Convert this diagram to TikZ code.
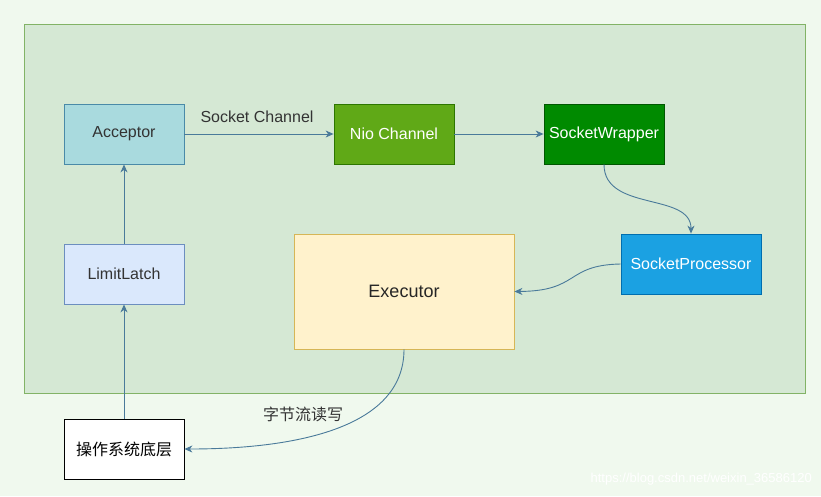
\documentclass[tikz,border=0pt]{standalone}
\usepackage{fontspec}
\setmainfont{Liberation Sans}
\newfontfamily\cjk{Noto Sans CJK SC}
\usetikzlibrary{arrows.meta}
\definecolor{bg}{HTML}{F0F9EE}
\definecolor{contfill}{HTML}{D5E8D4}
\definecolor{contline}{HTML}{82B366}
\definecolor{edge}{HTML}{4A7A9A}
\definecolor{txt}{HTML}{333333}
\definecolor{accfill}{HTML}{A9DADE}
\definecolor{accline}{HTML}{4A8AA8}
\definecolor{niofill}{HTML}{60A917}
\definecolor{nioline}{HTML}{2D7600}
\definecolor{swfill}{HTML}{008A00}
\definecolor{swline}{HTML}{005700}
\definecolor{spfill}{HTML}{1BA1E2}
\definecolor{spline}{HTML}{006EAF}
\definecolor{exfill}{HTML}{FFF2CC}
\definecolor{exline}{HTML}{D6B656}
\definecolor{llfill}{HTML}{DAE8FC}
\definecolor{llline}{HTML}{6C8EBF}
\tikzset{
  box/.style={draw, line width=0.8pt, inner sep=0pt, minimum width=120pt, minimum height=60pt, font=\fontsize{16}{18}\selectfont, text=txt},
  conn/.style={draw=edge, line width=0.9pt, -{Stealth[length=8pt,width=7pt,inset=2.5pt]}},
  lbl/.style={font=\fontsize{16}{18}\selectfont, text=txt}
}
\begin{document}
\begin{tikzpicture}[x=1pt,y=-1pt]
\fill[bg] (0,0) rectangle (821,496);
\useasboundingbox (0,0) rectangle (821,496);
\draw[fill=contfill, draw=contline, line width=0.8pt] (24,24) rectangle (805,393);
\node[box, fill=accfill, draw=accline] (acc) at (124,134) {Acceptor};
\node[box, fill=niofill, draw=nioline, text=white] (nio) at (394,134) {Nio Channel};
\node[box, fill=swfill, draw=swline, text=white] (sw) at (604,134) {SocketWrapper};
\node[box, minimum width=140pt, fill=spfill, draw=spline, text=white] (sp) at (691,264) {SocketProcessor};
\node[box, minimum width=220pt, minimum height=115pt, fill=exfill, draw=exline, font=\fontsize{18}{20}\selectfont, text=black!85] (ex) at (404,291.5) {Executor};
\node[box, fill=llfill, draw=llline] (ll) at (124,274) {LimitLatch};
\node[box, fill=white, draw=black, font=\cjk\fontsize{16}{18}\selectfont, text=black] (os) at (124,449) {操作系统底层};
\draw[conn] (acc) -- (nio);
\node[lbl] (lsc) at (257,117) {Socket Channel};
\draw[conn] (nio) -- (sw);
\draw[conn] (sw.south) .. controls (604,212) and (691,192) .. (sp.north);
\draw[conn] (sp.west) .. controls (565,265) and (580,291) .. (ex.east);
\draw[conn] (ex.south) .. controls (404,430) and (290,449) .. (os.east);
\node[lbl, font=\cjk\fontsize{16}{18}\selectfont] (lrw) at (303,414) {字节流读写};
\draw[conn] (ll) -- (acc);
\draw[conn] (os) -- (ll);
\node[anchor=base east, text=white, font=\fontsize{13}{15}\selectfont, inner sep=0pt] (wm) at (812,482) {https://blog.csdn.net/weixin\_36586120};
\end{tikzpicture}
\end{document}
